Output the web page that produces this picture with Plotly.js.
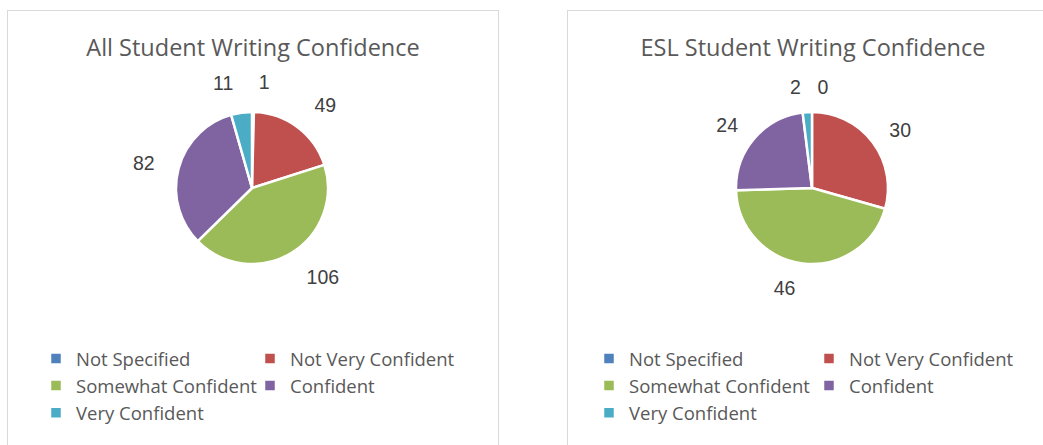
<!DOCTYPE html>
<html><head><meta charset="utf-8">
<script src="https://cdn.plot.ly/plotly-3.0.1.min.js"></script>
<style>
html,body{margin:0;padding:0;background:#fff;overflow:hidden;width:1043px;height:445px;}
.box{position:absolute;top:10px;width:490px;height:440px;border:1px solid #d9d9d9;background:#fff;}
#left{left:7px;} #right{left:567px;}
</style></head><body>
<div id="left" class="box"></div><div id="right" class="box"></div>
<script>
const categories = ['Not Specified', 'Not Very Confident', 'Somewhat Confident', 'Confident', 'Very Confident'];
const allStudentValues = [1, 49, 106, 82, 11];
const eslStudentValues = [0, 30, 46, 24, 2];
const sliceColors = ['#4F81BD', '#C0504D', '#9BBB59', '#8064A2', '#4BACC6'];
const chartTitles = ['All Student Writing Confidence', 'ESL Student Writing Confidence'];

const W = 490, H = 440;
const FONT = 'Open Sans, Arial, sans-serif';
const LABEL_FONT = 'Liberation Sans, Arial, sans-serif';

function makeChart(divId, values, title, legendLeftPx, entryW, rLab) {
  const cx = 244, cy = 177, rPie = 76;
  const dom = r => ({
    x: [(cx - r) / W, (cx + r) / W],
    y: [1 - (cy + r) / H, 1 - (cy - r) / H]
  });
  const pie = {
    type: 'pie', labels: categories, values: values, sort: false,
    direction: 'clockwise', rotation: 0,
    marker: {colors: sliceColors, line: {color: '#ffffff', width: 2.5}},
    textinfo: 'none', hoverinfo: 'skip', domain: dom(rPie)
  };
  const labelPie = {
    type: 'pie', labels: categories, values: values, sort: false,
    direction: 'clockwise', rotation: 0,
    marker: {colors: categories.map(() => 'rgba(0,0,0,0)'), line: {width: 0}},
    textinfo: 'value', textposition: 'outside',
    outsidetextfont: {family: LABEL_FONT, size: 19.5, color: '#404040'},
    showlegend: false, hoverinfo: 'skip', domain: dom(rLab)
  };
  const layout = {
    width: W, height: H,
    margin: {l: 0, r: 0, t: 0, b: 0, pad: 0},
    paper_bgcolor: '#ffffff', plot_bgcolor: '#ffffff',
    font: {family: FONT, color: '#595959'},
    title: {text: title, x: 0.5, xanchor: 'center', xref: 'container',
            y: 1 - 37 / H, yanchor: 'middle', yref: 'container',
            font: {family: FONT, size: 23.5, color: '#595959'}},
    showlegend: true,
    legend: {orientation: 'h', x: legendLeftPx / W, xanchor: 'left',
             y: 1 - 329 / H, yanchor: 'top', entrywidth: entryW, entrywidthmode: 'pixels',
             itemwidth: 30, traceorder: 'normal', bgcolor: 'rgba(0,0,0,0)',
             font: {family: FONT, size: 18.5, color: '#595959'}}
  };
  Plotly.newPlot(divId, [pie, labelPie], layout, {displayModeBar: false, staticPlot: true});
}

makeChart('left', allStudentValues, chartTitles[0], 28, 169, 95);
makeChart('right', eslStudentValues, chartTitles[1], 21, 175, 90);
</script>
</body></html>
